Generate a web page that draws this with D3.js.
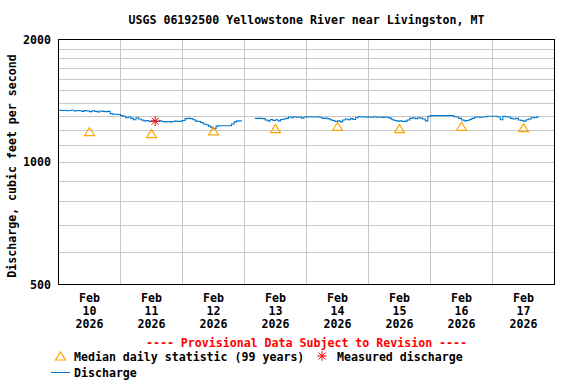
<!DOCTYPE html>
<html>
<head>
<meta charset="utf-8">
<script src="https://cdn.jsdelivr.net/npm/d3@7"></script>
<style>
  html, body { margin: 0; padding: 0; background: #fff; }
  svg { display: block; }
  text { font-family: "DejaVu Sans Mono", "Liberation Mono", monospace; font-weight: bold; font-size: 11.6px; }
</style>
</head>
<body>
<svg id="chart" width="576" height="384"></svg>
<script>
// ---------------- DATA ----------------
const titleText = "USGS 06192500 Yellowstone River near Livingston, MT";
const yAxisTitle = "Discharge, cubic feet per second";
const provisionalText = "---- Provisional Data Subject to Revision ----";

const dayStarts = ["2026-02-10","2026-02-11","2026-02-12","2026-02-13","2026-02-14","2026-02-15","2026-02-16","2026-02-17"];
const tickMonths = ["Feb","Feb","Feb","Feb","Feb","Feb","Feb","Feb"];
const tickDays = ["10","11","12","13","14","15","16","17"];
const tickYears = ["2026","2026","2026","2026","2026","2026","2026","2026"];

const yTickLabels = [500, 1000, 2000];
const yGridValues = [600,700,800,900,1000,1100,1200,1300,1400,1500,1600,1700,1800,1900];

// Median daily statistic (99 years), plotted at noon of each day
const medianDaily = [1188, 1174, 1192, 1208, 1224, 1208, 1224, 1215];

// Measured discharge
const measuredTimes = ["2026-02-11T13:25:00Z"];
const measuredValues = [1260];

// Discharge, hourly values starting 2026-02-10 00:00 (null = gap)
const dischargeStart = "2026-02-10T00:00:00Z";
const dischargeHourly = [
  // Feb 10
  1340,1338,1340,1336,1338,1340,1335,1338,1336,1332,1338,1335,1330,1336,1332,1328,1334,
  1332,1330,1332,1315,1310,1310,1308,
  // Feb 11
  1300,1295,1285,1290,1280,1270,1285,1275,1268,1262,1265,1258,1262,1260,1258,1262,1258,1255,1258,1255,1258,1260,1258,1260,
  // Feb 12
  1265,1278,1280,1278,1270,1260,1258,1250,1240,1235,1225,1215,1208,1225,1228,1228,1228,1228,1228,1240,1255,1262,1262,1262,
  // Feb 13
  null,null,null,null,1280,1280,1280,1278,1268,1262,1272,1265,1270,1262,1272,1275,1280,1290,1285,1292,1288,1290,1282,1292,
  // Feb 14
  1290,1292,1290,1290,1292,1288,1280,1282,1278,1270,1265,1258,1262,1255,1268,1275,1270,1278,1272,1285,1292,1290,1292,1288,
  // Feb 15
  1290,1288,1292,1288,1290,1286,1290,1288,1282,1270,1265,1260,1262,1258,1260,1268,1280,1285,1278,1285,1282,1275,1262,1295,
  // Feb 16
  1300,1300,1300,1300,1300,1300,1300,1300,1300,1292,1290,1280,1268,1262,1265,1272,1280,1288,1290,1288,1290,1292,1295,1295,
  // Feb 17
  1295,1295,1290,1270,1295,1292,1290,1280,1275,1280,1268,1265,1260,1270,1275,1288,1285,1290,1290
];

const legendLabels = ["Median daily statistic (99 years)", "Measured discharge", "Discharge"];

// ---------------- COLORS ----------------
const colDischarge = "#0077cc";
const colMedian = "#ffa500";
const colMeasured = "#ff0000";
const colGrid = "#c8c8c8";

// ---------------- LAYOUT ----------------
const plot = { left: 58.5, right: 554.5, top: 39.5, bottom: 284.5 };
const svg = d3.select("#chart");

const parse = d3.utcParse("%Y-%m-%d");
const tStart = d3.isoParse(dischargeStart);
const x = d3.scaleUtc()
  .domain([parse(dayStarts[0]), d3.utcDay.offset(parse(dayStarts[dayStarts.length - 1]), 1)])
  .range([plot.left, plot.right]);
const y = d3.scaleLog().domain([500, 2000]).range([plot.bottom, plot.top]);

// Gridlines
const g = svg.append("g");
g.selectAll("line.hgrid").data(yGridValues).join("line")
  .attr("x1", plot.left).attr("x2", plot.right)
  .attr("y1", d => Math.round(y(d)) + 0.5).attr("y2", d => Math.round(y(d)) + 0.5)
  .attr("stroke", colGrid).attr("stroke-width", 1);
g.selectAll("line.vgrid").data(dayStarts.slice(1)).join("line")
  .attr("x1", d => Math.round(x(parse(d)) - 0.5) + 0.5).attr("x2", d => Math.round(x(parse(d)) - 0.5) + 0.5)
  .attr("y1", plot.top).attr("y2", plot.bottom)
  .attr("stroke", colGrid).attr("stroke-width", 1);

// Discharge line
const dischargeData = dischargeHourly.map((v, i) => ({ t: d3.utcHour.offset(tStart, i), v }));
const line = d3.line()
  .defined(d => d.v != null)
  .x(d => x(d.t)).y(d => y(d.v))
  .curve(d3.curveStepAfter);
svg.append("path").datum(dischargeData)
  .attr("d", line).attr("fill", "none")
  .attr("stroke", colDischarge).attr("stroke-width", 1.1);

// Median triangles
const triPath = "M0,-4L5,4L-5,4Z";
svg.selectAll("path.median").data(medianDaily).join("path")
  .attr("class", "median")
  .attr("d", triPath)
  .attr("transform", (d, i) => `translate(${x(d3.utcHour.offset(parse(dayStarts[i]), 12))},${y(d)})`)
  .attr("fill", "none").attr("stroke", colMedian).attr("stroke-width", 1.2);

// Measured asterisk
function asterisk(sel, r) {
  [[-r,0,r,0],[0,-r,0,r],[-r*0.72,-r*0.72,r*0.72,r*0.72],[-r*0.72,r*0.72,r*0.72,-r*0.72]].forEach(a => {
    sel.append("line").attr("x1", a[0]).attr("y1", a[1]).attr("x2", a[2]).attr("y2", a[3])
      .attr("stroke", colMeasured).attr("stroke-width", 1);
  });
}
measuredValues.forEach((v, i) => {
  const gg = svg.append("g").attr("transform", `translate(${x(d3.isoParse(measuredTimes[i]))},${y(v)})`);
  asterisk(gg, 4.8);
});

// Plot border
svg.append("rect")
  .attr("x", plot.left).attr("y", plot.top)
  .attr("width", plot.right - plot.left).attr("height", plot.bottom - plot.top)
  .attr("fill", "none").attr("stroke", "#000").attr("stroke-width", 1);

// Y tick labels
svg.selectAll("text.ytick").data(yTickLabels).join("text")
  .attr("x", 51).attr("y", d => y(d) + 4)
  .attr("text-anchor", "end").text(d => d);

// Y axis title
svg.append("text")
  .attr("transform", "translate(16,166) rotate(-90)")
  .attr("text-anchor", "middle").text(yAxisTitle);

// X tick labels
dayStarts.forEach((d, i) => {
  const cx = x(d3.utcHour.offset(parse(d), 12));
  const t = svg.append("text").attr("text-anchor", "middle");
  t.append("tspan").attr("x", cx).attr("y", 302).text(tickMonths[i]);
  t.append("tspan").attr("x", cx).attr("y", 315).text(tickDays[i]);
  t.append("tspan").attr("x", cx).attr("y", 328).text(tickYears[i]);
});

// Title
svg.append("text").attr("x", (plot.left + plot.right) / 2).attr("y", 24)
  .attr("text-anchor", "middle").text(titleText);

// Provisional text
svg.append("text").attr("x", (plot.left + plot.right) / 2).attr("y", 347)
  .attr("text-anchor", "middle").attr("fill", colMeasured).text(provisionalText);

// Legend
svg.append("path").attr("d", triPath).attr("transform", "translate(60.5,356)")
  .attr("fill", "none").attr("stroke", colMedian).attr("stroke-width", 1.2);
svg.append("text").attr("x", 74).attr("y", 361).text(legendLabels[0]);
asterisk(svg.append("g").attr("transform", "translate(322,356)"), 4.8);
svg.append("text").attr("x", 337).attr("y", 361).text(legendLabels[1]);
svg.append("line").attr("x1", 51).attr("x2", 70).attr("y1", 372.5).attr("y2", 372.5)
  .attr("stroke", colDischarge).attr("stroke-width", 1);
svg.append("text").attr("x", 74).attr("y", 377).text(legendLabels[2]);
</script>
</body>
</html>
